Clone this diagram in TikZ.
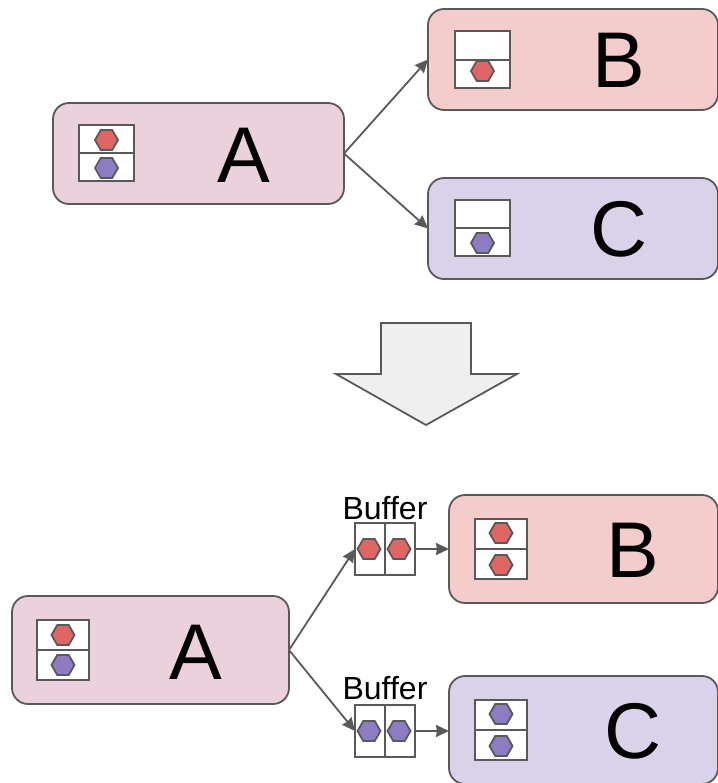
\documentclass[tikz,border=0pt]{standalone}
\usepackage{fontspec}
\setmainfont{Liberation Sans}
\usetikzlibrary{shapes.geometric,arrows.meta}
\definecolor{lineg}{HTML}{595959}
\definecolor{fa}{HTML}{EAD1DC}
\definecolor{fb}{HTML}{F4CCCC}
\definecolor{fc}{HTML}{D9D2E9}
\definecolor{hr}{HTML}{E06666}
\definecolor{hp}{HTML}{8E7CC3}
\definecolor{fg}{HTML}{EFEFEF}
\tikzset{
  proc/.style={draw=lineg,line width=1.8pt,rounded corners=16pt,inner sep=0pt,outer sep=0pt},
  cell/.style={draw=lineg,line width=1.8pt,fill=white,inner sep=0pt,outer sep=0pt},
  hex/.style={regular polygon,regular polygon sides=6,shape border rotate=0,draw=lineg,line width=1.8pt,inner sep=0pt,outer sep=0pt,minimum size=23pt},
  redhex/.style={hex,fill=hr},
  purphex/.style={hex,fill=hp},
  conn/.style={draw=lineg,line width=1.8pt,-{Stealth[length=13pt,width=12pt,inset=1pt]}},
  biglabel/.style={inner sep=0pt,font=\fontsize{79}{79}\selectfont},
  buflabel/.style={inner sep=0pt,font=\fontsize{32}{32}\selectfont}
}
\begin{document}
\begin{tikzpicture}[x=1pt,y=-1pt]
\useasboundingbox (0,0) rectangle (717,783);
% top
\node[proc,fill=fa,minimum width=291pt,minimum height=101pt] (A1) at (198.5,153.5) {};
\node[proc,fill=fb,minimum width=290pt,minimum height=101pt] (B1) at (573,59.5) {};
\node[proc,fill=fc,minimum width=290pt,minimum height=101pt] (C1) at (573,228.5) {};
\node[biglabel] (A1t) at (244,155) {A};
\node[biglabel] (B1t) at (619,60) {B};
\node[biglabel] (C1t) at (619,229) {C};
\node[cell,minimum width=55pt,minimum height=28pt] (a1u) at (106.5,139) {};
\node[cell,minimum width=55pt,minimum height=28pt] (a1l) at (106.5,167) {};
\node[redhex] (a1r) at (106.5,140) {};
\node[purphex] (a1p) at (106.5,168) {};
\node[cell,minimum width=55pt,minimum height=28.5pt] (b1u) at (482.5,45.5) {};
\node[cell,minimum width=55pt,minimum height=28.5pt] (b1l) at (482.5,74) {};
\node[redhex] (b1r) at (482.5,71) {};
\node[cell,minimum width=55pt,minimum height=28pt] (c1u) at (482.5,214) {};
\node[cell,minimum width=55pt,minimum height=28pt] (c1l) at (482.5,242) {};
\node[purphex] (c1p) at (482.5,243) {};
\draw[conn] (A1.east) -- (B1.west);
\draw[conn] (A1.east) -- (C1.west);
% big arrow
\draw[draw=lineg,line width=1.8pt,fill=fg,line join=miter] (381,323) -- (471,323) -- (471,374) -- (517,374) -- (426,425) -- (336,374) -- (381,374) -- cycle;
% bottom
\node[proc,fill=fa,minimum width=277pt,minimum height=108pt] (A2) at (150.5,650) {};
\node[proc,fill=fb,minimum width=269pt,minimum height=108pt] (B2) at (583.5,549) {};
\node[proc,fill=fc,minimum width=269pt,minimum height=108pt] (C2) at (583.5,730) {};
\node[biglabel] (A2t) at (196,652) {A};
\node[biglabel] (B2t) at (633,550) {B};
\node[biglabel] (C2t) at (633,731) {C};
\node[cell,minimum width=52pt,minimum height=30pt] (a2u) at (63,635) {};
\node[cell,minimum width=52pt,minimum height=30pt] (a2l) at (63,665) {};
\node[redhex] (a2r) at (63,635) {};
\node[purphex] (a2p) at (63,665) {};
\node[cell,minimum width=52pt,minimum height=30pt] (b2u) at (501,534) {};
\node[cell,minimum width=52pt,minimum height=30pt] (b2l) at (501,564) {};
\node[redhex] (b2r) at (501,533) {};
\node[redhex] (b2s) at (501,565) {};
\node[cell,minimum width=52pt,minimum height=30pt] (c2u) at (501,715) {};
\node[cell,minimum width=52pt,minimum height=30pt] (c2l) at (501,745) {};
\node[purphex] (c2p) at (501,714) {};
\node[purphex] (c2q) at (501,746) {};
% buffers
\node[cell,minimum width=30pt,minimum height=52pt] (bu1l) at (370,549) {};
\node[cell,minimum width=30pt,minimum height=52pt] (bu1r) at (400,549) {};
\node[redhex] at (369,549) {};
\node[redhex] at (399,549) {};
\node[cell,minimum width=30pt,minimum height=52pt] (bu2l) at (370,731) {};
\node[cell,minimum width=30pt,minimum height=52pt] (bu2r) at (400,731) {};
\node[purphex] at (369,731) {};
\node[purphex] at (399,731) {};
\node[buflabel] (bl1) at (385,508) {Buffer};
\node[buflabel] (bl2) at (385,688) {Buffer};
\draw[conn] (A2.east) -- (bu1l.west);
\draw[conn] (A2.east) -- (bu2l.west);
\draw[conn] (bu1r.east) -- (B2.west);
\draw[conn] (bu2r.east) -- (bu2r.east -| C2.west);
\end{tikzpicture}
\end{document}
